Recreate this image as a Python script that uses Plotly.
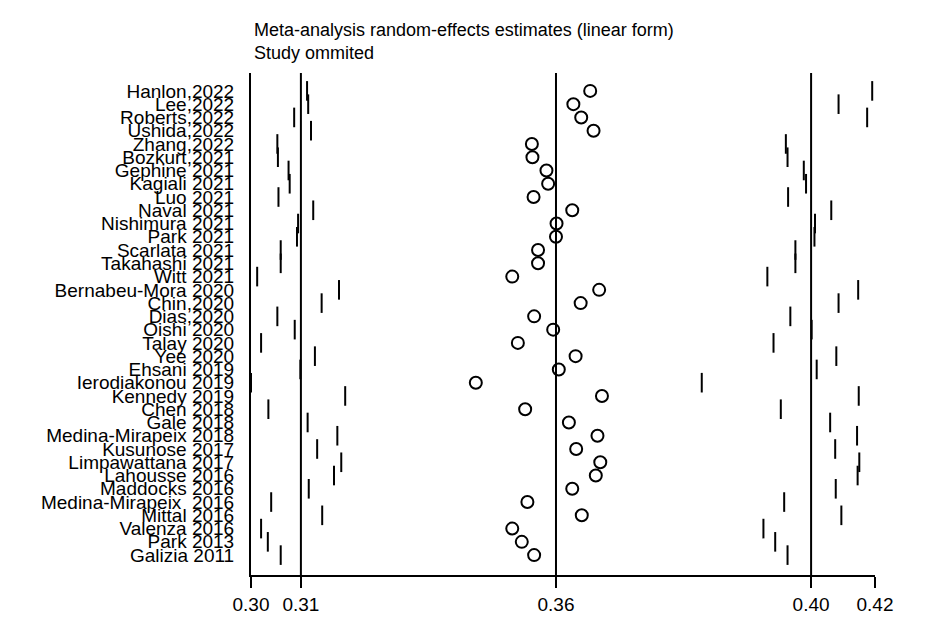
'''
metaninf style plot: random-effects estimate with one study omitted at a time
'''
import plotly.graph_objects as go

# %%
# studies (top to bottom)
studies = [
    'Hanlon,2022', 'Lee,2022', 'Roberts,2022', 'Ushida,2022', 'Zhang,2022',
    'Bozkurt,2021', 'Gephine 2021', 'Kagiali 2021', 'Luo 2021', 'Naval 2021',
    'Nishimura 2021', 'Park 2021', 'Scarlata 2021', 'Takahashi 2021', 'Witt 2021',
    'Bernabeu-Mora 2020', 'Chin,2020', 'Dias,2020', 'Oishi 2020', 'Talay 2020',
    'Yee 2020', 'Ehsani 2019', 'Ierodiakonou 2019', 'Kennedy 2019', 'Chen 2018',
    'Gale 2018', 'Medina-Mirapeix 2018', 'Kusunose 2017', 'Limpawattana 2017',
    'Lahousse 2016', 'Maddocks 2016', 'Medina-Mirapeix  2016', 'Mittal 2016',
    'Valenza 2016', 'Park 2013', 'Galizia 2011',
]
# pooled estimate when the study is omitted
estimate = [
    0.3651, 0.3621, 0.3635, 0.3657, 0.3547, 0.3548, 0.3573, 0.3576, 0.3550, 0.3619,
    0.3591, 0.3590, 0.3558, 0.3558, 0.3512, 0.3667, 0.3634, 0.3551, 0.3585, 0.3522,
    0.3625, 0.3595, 0.3447, 0.3672, 0.3535, 0.3613, 0.3664, 0.3626, 0.3669, 0.3661,
    0.3619, 0.3539, 0.3636, 0.3512, 0.3529, 0.3551,
]
ci_lower = [
    0.3146, 0.3148, 0.3123, 0.3153, 0.3093, 0.3094, 0.3113, 0.3115, 0.3095, 0.3157,
    0.3130, 0.3128, 0.3099, 0.3099, 0.3057, 0.3203, 0.3172, 0.3093, 0.3124, 0.3064,
    0.3160, 0.3134, 0.3046, 0.3214, 0.3077, 0.3147, 0.3200, 0.3164, 0.3207, 0.3194,
    0.3149, 0.3082, 0.3173, 0.3064, 0.3076, 0.3099,
]
ci_upper = [
    0.4154, 0.4094, 0.4145, 0.4160, 0.4000, 0.4003, 0.4032, 0.4036, 0.4004, 0.4081,
    0.4052, 0.4051, 0.4017, 0.4017, 0.3967, 0.4129, 0.4094, 0.4008, 0.4046, 0.3978,
    0.4090, 0.4055, 0.3850, 0.4130, 0.3991, 0.4079, 0.4127, 0.4088, 0.4131, 0.4128,
    0.4089, 0.3997, 0.4099, 0.3960, 0.3981, 0.4003,
]
# overall estimate and its CI (vertical lines)
overall_lower, overall_est, overall_upper = 0.3135, 0.3590, 0.4045
# axis ticks: min lower, overall lower, estimate, overall upper, max upper
x_tickvals = [0.3046, 0.3135, 0.3590, 0.4045, 0.4159]
x_ticktext = ['0.30', '0.31', '0.36', '0.40', '0.42']

rows = list(range(len(studies)))
FONT = 'Liberation Sans, Arial, sans-serif'

# %%
fig = go.Figure([
    go.Scatter(x=ci_lower, y=rows, mode='markers', cliponaxis=False,
               marker=dict(symbol='line-ns', size=14, line=dict(width=2, color='black'))),
    go.Scatter(x=ci_upper, y=rows, mode='markers', cliponaxis=False,
               marker=dict(symbol='line-ns', size=14, line=dict(width=2, color='black'))),
    go.Scatter(x=estimate, y=rows, mode='markers', cliponaxis=False,
               marker=dict(symbol='circle-open', size=12, color='black', line=dict(width=2))),
])

for xv in [overall_lower, overall_est, overall_upper]:
    fig.add_shape(type='line', xref='x', yref='paper', x0=xv, x1=xv, y0=0, y1=1,
                  line=dict(color='black', width=2))

# two title lines, left aligned with the plot
fig.add_annotation(text='Meta-analysis random-effects estimates (linear form)',
                   xref='paper', yref='paper', x=0.002, y=1.085, xanchor='left', yanchor='middle',
                   showarrow=False, font=dict(family=FONT, size=18, color='black'))
fig.add_annotation(text='Study ommited',
                   xref='paper', yref='paper', x=0.002, y=1.04, xanchor='left', yanchor='middle',
                   showarrow=False, font=dict(family=FONT, size=18, color='black'))

fig.update_xaxes(
    range=[x_tickvals[0], x_tickvals[-1]],
    tickvals=x_tickvals, ticktext=x_ticktext,
    showgrid=False, zeroline=False,
    showline=True, linecolor='black', linewidth=2,
    ticks='outside', ticklen=11, tickwidth=2, tickcolor='black',
    tickfont=dict(family=FONT, size=19, color='black'),
)
fig.update_yaxes(
    range=[36.5, -1.35],
    tickvals=rows, ticktext=studies,
    showgrid=False, zeroline=False,
    showline=True, linecolor='black', linewidth=2,
    ticks='', ticklabelstandoff=11,
    tickfont=dict(family=FONT, size=19, color='black'),
)
# page body has an 8px margin, so the figure is a bit smaller than the window
fig.update_layout(
    width=915, height=619,
    margin=dict(l=243, r=48, t=65, b=50),
    plot_bgcolor='white', paper_bgcolor='white',
    showlegend=False,
    font=dict(family=FONT, color='black'),
)

fig.write_html('out.html')
